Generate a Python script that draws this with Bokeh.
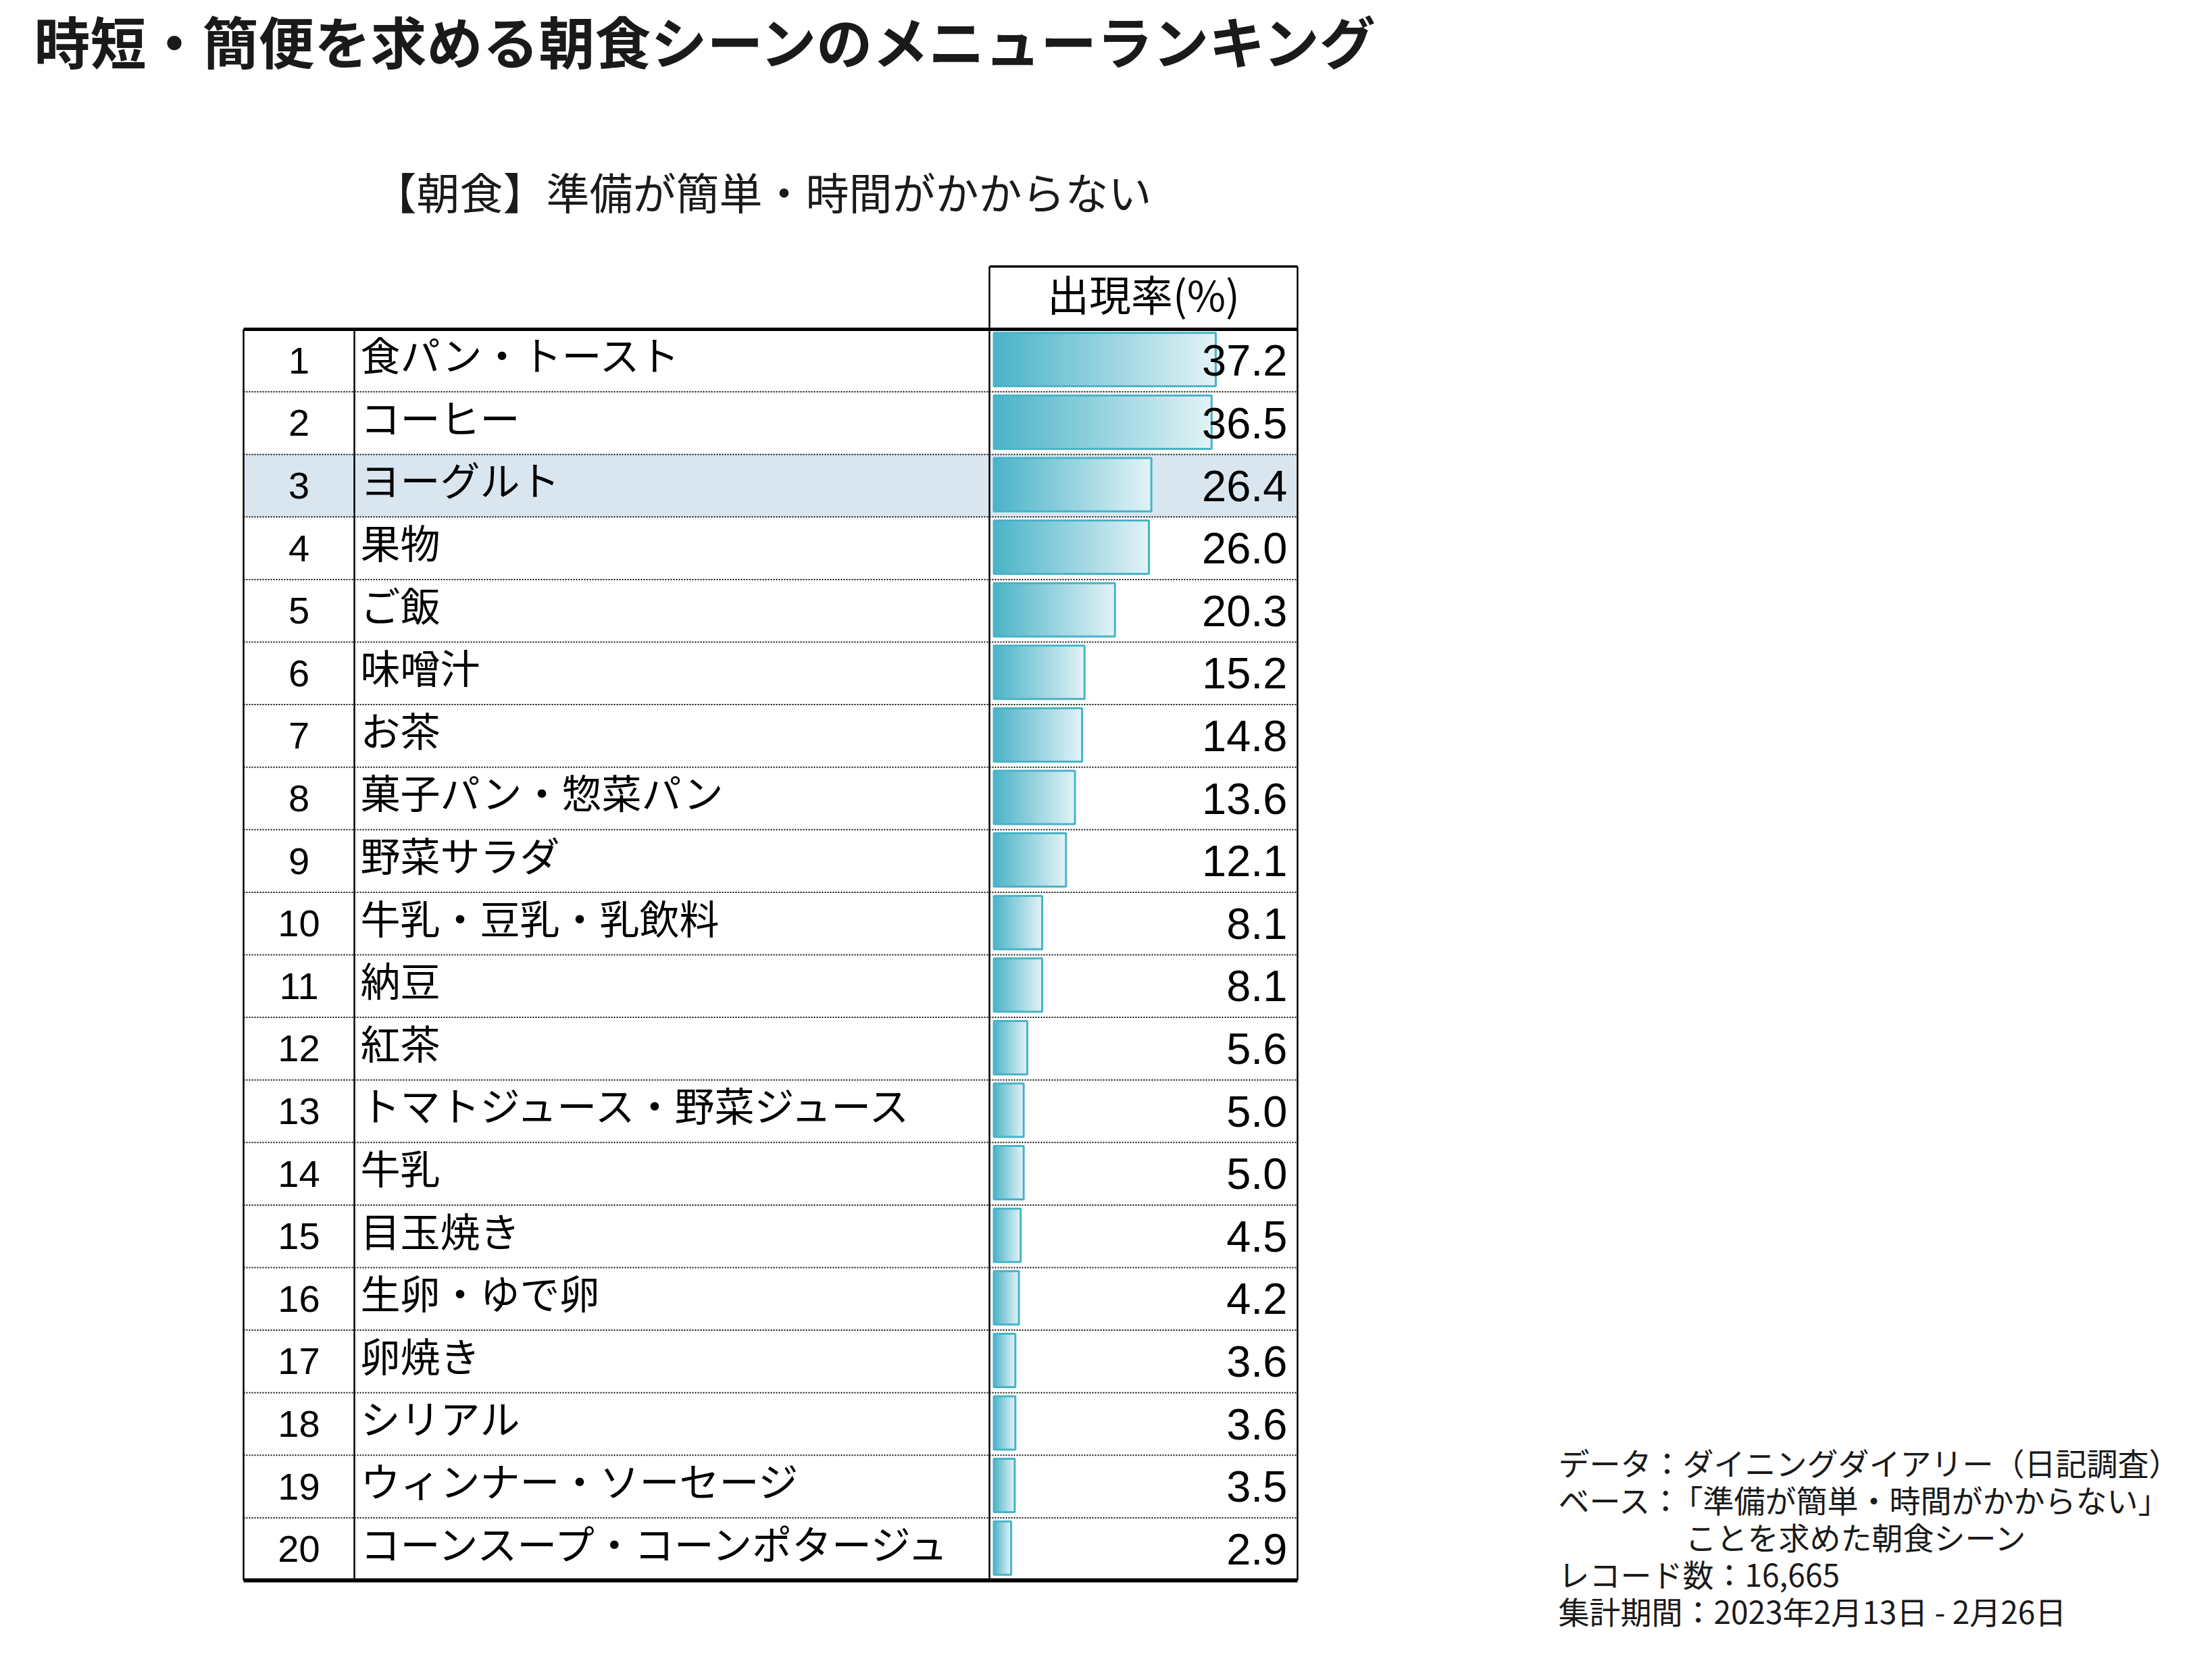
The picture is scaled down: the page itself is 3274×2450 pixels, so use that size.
from bokeh.plotting import figure
from bokeh.models import Range1d, Label, ColumnDataSource
from bokeh.embed import file_html
from bokeh.resources import INLINE
from bokeh.core.properties import value

# ---------------- data ----------------
ranks = [str(i) for i in range(1, 21)]
items = [
    "食パン・トースト", "コーヒー", "ヨーグルト", "果物", "ご飯",
    "味噌汁", "お茶", "菓子パン・惣菜パン", "野菜サラダ", "牛乳・豆乳・乳飲料",
    "納豆", "紅茶", "トマトジュース・野菜ジュース", "牛乳", "目玉焼き",
    "生卵・ゆで卵", "卵焼き", "シリアル", "ウィンナー・ソーセージ", "コーンスープ・コーンポタージュ",
]
rates = [37.2, 36.5, 26.4, 26.0, 20.3, 15.2, 14.8, 13.6, 12.1, 8.1,
         8.1, 5.6, 5.0, 5.0, 4.5, 4.2, 3.6, 3.6, 3.5, 2.9]
highlight_rank = 3

title_text = "時短・簡便を求める朝食シーンのメニューランキング"
subtitle_text = "【朝食】準備が簡単・時間がかからない"
header_text = "出現率(%)"
note_data = "データ：ダイニングダイアリー（日記調査）"
note_base_head = "ベース："
note_base_body = "「準備が簡単・時間がかからない」"
note_base_cont = "ことを求めた朝食シーン"
note_records = "レコード数：16,665"
note_period = "集計期間：2023年2月13日 - 2月26日"

# ---------------- layout (page pixels) ----------------
W, H = 3258, 2434
OFF = 0           # page pixel of canvas origin
PX0 = 1470.5      # page x of value 0
PX_PER = 8.83     # pixels per percentage point
ROW_TOP = 487.0
ROW_H = 92.6

def fx(X):
    return (X - PX0) / PX_PER

def fy(Y):
    return (Y - ROW_TOP) / ROW_H - 0.5

JP = "Noto Sans CJK JP"
NUM = "Liberation Sans"

p = figure(width=W, height=H,
           x_range=Range1d(fx(OFF), fx(OFF + W)),
           y_range=Range1d(fy(OFF + H), fy(OFF)),
           output_backend="svg", toolbar_location=None,
           x_axis_location=None, y_axis_location=None,
           min_border=0, outline_line_color=None)
p.xgrid.grid_line_color = None
p.ygrid.grid_line_color = None
p.background_fill_color = "white"
p.border_fill_color = "white"

n = len(rates)
rows = list(range(n))

# highlighted row
hi = highlight_rank - 1
p.quad(left=fx(360), right=fx(1920), top=hi - 0.5, bottom=hi + 0.5,
       fill_color="#D9E6F0", line_color=None)

# gradient bars made of thin slices
c0 = (74, 179, 200)
c1 = (226, 243, 246)
N = 40
sl_left, sl_right, sl_y, sl_col = [], [], [], []
for i, v in enumerate(rates):
    for k in range(N):
        t = (k + 0.5) / N
        col = tuple(int(round(c0[j] + (c1[j] - c0[j]) * t)) for j in range(3))
        sl_left.append(v * k / N)
        sl_right.append(v * (k + 1) / N)
        sl_y.append(i - 0.016)
        sl_col.append("#%02x%02x%02x" % col)
slices = ColumnDataSource(dict(left=sl_left, right=sl_right, y=sl_y, color=sl_col))
p.hbar(y="y", left="left", right="right", height=0.853, source=slices,
       fill_color="color", line_color="color", line_width=1)

bars = ColumnDataSource(dict(y=[r - 0.016 for r in rows], right=rates))
p.hbar(y="y", left=0, right="right", height=0.853, source=bars,
       fill_color=None, line_color="#47B3C8", line_width=3)

# table lines
p.segment(x0=[fx(360)] * (n - 1), x1=[fx(1920)] * (n - 1),
          y0=[r + 0.5 for r in rows[:-1]], y1=[r + 0.5 for r in rows[:-1]],
          line_color="#111111", line_width=2, line_dash="2 2")
p.segment(x0=[fx(360), fx(524)], x1=[fx(360), fx(524)],
          y0=[-0.5, -0.5], y1=[n - 0.5, n - 0.5], line_color="black", line_width=2.5)
p.segment(x0=[fx(1464), fx(1920)], x1=[fx(1464), fx(1920)],
          y0=[fy(394), fy(394)], y1=[n - 0.5, n - 0.5], line_color="black", line_width=2.5)
p.segment(x0=[fx(1464)], x1=[fx(1920)], y0=[fy(394)], y1=[fy(394)],
          line_color="black", line_width=3.5)
p.segment(x0=[fx(360)], x1=[fx(1920)], y0=[-0.5], y1=[-0.5],
          line_color="black", line_width=5)
p.segment(x0=[fx(360)], x1=[fx(1920)], y0=[n - 0.5], y1=[n - 0.5],
          line_color="black", line_width=6)

# texts in table
src = ColumnDataSource(dict(
    y=rows,
    ylab=[r - 0.11 for r in rows],
    rank=ranks,
    item=items,
    val=["%.1f" % v for v in rates],
))
p.text(x=fx(442), y="y", text="rank", source=src, text_font=value(NUM),
       text_font_size="56px", text_align="center", text_baseline="middle",
       text_color="black")
p.text(x=fx(533), y="ylab", text="item", source=src, text_font=value(JP),
       text_font_size="59px", text_align="left", text_baseline="middle",
       text_color="black")
p.text(x=fx(1905), y="y", text="val", source=src, text_font=value(NUM),
       text_font_size="65px", text_align="right", text_baseline="middle",
       text_color="black")

# header
p.add_layout(Label(x=fx(1692), y=fy(433), text=header_text, text_font=JP,
                   text_font_size="62px", text_align="center",
                   text_baseline="middle", text_color="black"))

# title & subtitle
p.add_layout(Label(x=fx(50), y=fy(58), text=title_text, text_font=JP,
                   text_font_size="83px", text_font_style="bold",
                   text_align="left", text_baseline="middle", text_color="#1a1a1a"))
p.add_layout(Label(x=fx(1128), y=fy(281), text=subtitle_text, text_font=JP,
                   text_font_size="64px", text_align="center",
                   text_baseline="middle", text_color="#1a1a1a"))

# notes
def note(t, X, Y):
    p.add_layout(Label(x=fx(X), y=fy(Y), text=t, text_font=JP,
                       text_font_size="46px", text_align="left",
                       text_baseline="middle", text_color="#1a1a1a"))

note(note_data, 2306, 2163)
note(note_base_head, 2306, 2218)
note(note_base_body, 2474, 2218)
note(note_base_cont, 2494, 2273)
note(note_records, 2306, 2328)
note(note_period, 2306, 2383)

open("out.html", "w").write(file_html(p, INLINE))
